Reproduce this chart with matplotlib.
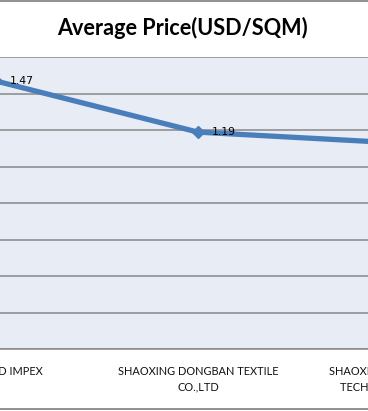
import matplotlib.pyplot as plt
from matplotlib.lines import Line2D

# data
suppliers = ["SIVANAND IMPEX",
             "SHAOXING DONGBAN TEXTILE\nCO.,LTD",
             "SHAOXING KEHUA TEXTILE\nTECHNOLOGY CO.,LTD"]
avg_price = [1.47, 1.19, 1.13]
price_labels = ["1.47", "1.19", ""]
y_ticks = [0.0, 0.2, 0.4, 0.6, 0.8, 1.0, 1.2, 1.4, 1.6]

W, H = 368, 411
fig = plt.figure(figsize=(W / 100, H / 100), dpi=100)
fig.patch.set_facecolor("white")

# plot area is wider than the visible crop
x0_px, x1_px = -105, 501
top_px, bot_px = 57.3, 349.3
ax = fig.add_axes([x0_px / W, (H - bot_px) / H, (x1_px - x0_px) / W, (bot_px - top_px) / H])
ax.set_facecolor("#E8ECF4")

xs = list(range(len(suppliers)))
ax.plot(xs, avg_price, color="#4A7EBB", lw=3.8, marker="D", ms=6,
        markeredgecolor="#4A7EBB", solid_joinstyle="round", zorder=3)

for x, v, t in zip(xs, avg_price, price_labels):
    if t:
        ax.annotate(t, (x, v), xytext=(10, 0), textcoords="offset points",
                    va="center", ha="left", fontsize=7.8, family="DejaVu Sans", color="black")

ax.set_xlim(-0.5, len(suppliers) - 0.5)
ax.set_ylim(0, 1.6)
ax.set_yticks(y_ticks)
ax.set_yticklabels([])
ax.grid(axis="y", color="#888888", lw=1.1)
ax.set_axisbelow(True)
ax.set_xticks(xs)
ax.set_xticklabels(suppliers, fontsize=7.9, family="Lato", color="#111111", linespacing=1.55)
ax.tick_params(axis="x", length=0, pad=12)
ax.tick_params(axis="y", length=0)
for s in ["left", "right", "top"]:
    ax.spines[s].set_visible(False)
ax.spines["bottom"].set_color("#888888")
ax.spines["bottom"].set_linewidth(1.1)

fig.text(0.496, 1 - 28 / H, "Average Price(USD/SQM)", ha="center", va="center",
         fontsize=15.6, fontweight="bold", family="Lato", color="black")

# chart border (top and bottom edges visible)
for yp in [1.2, 409.3]:
    fig.add_artist(Line2D([0, 1], [1 - yp / H, 1 - yp / H], color="#888888", lw=1.3))

fig.savefig("out.png", dpi=100)
